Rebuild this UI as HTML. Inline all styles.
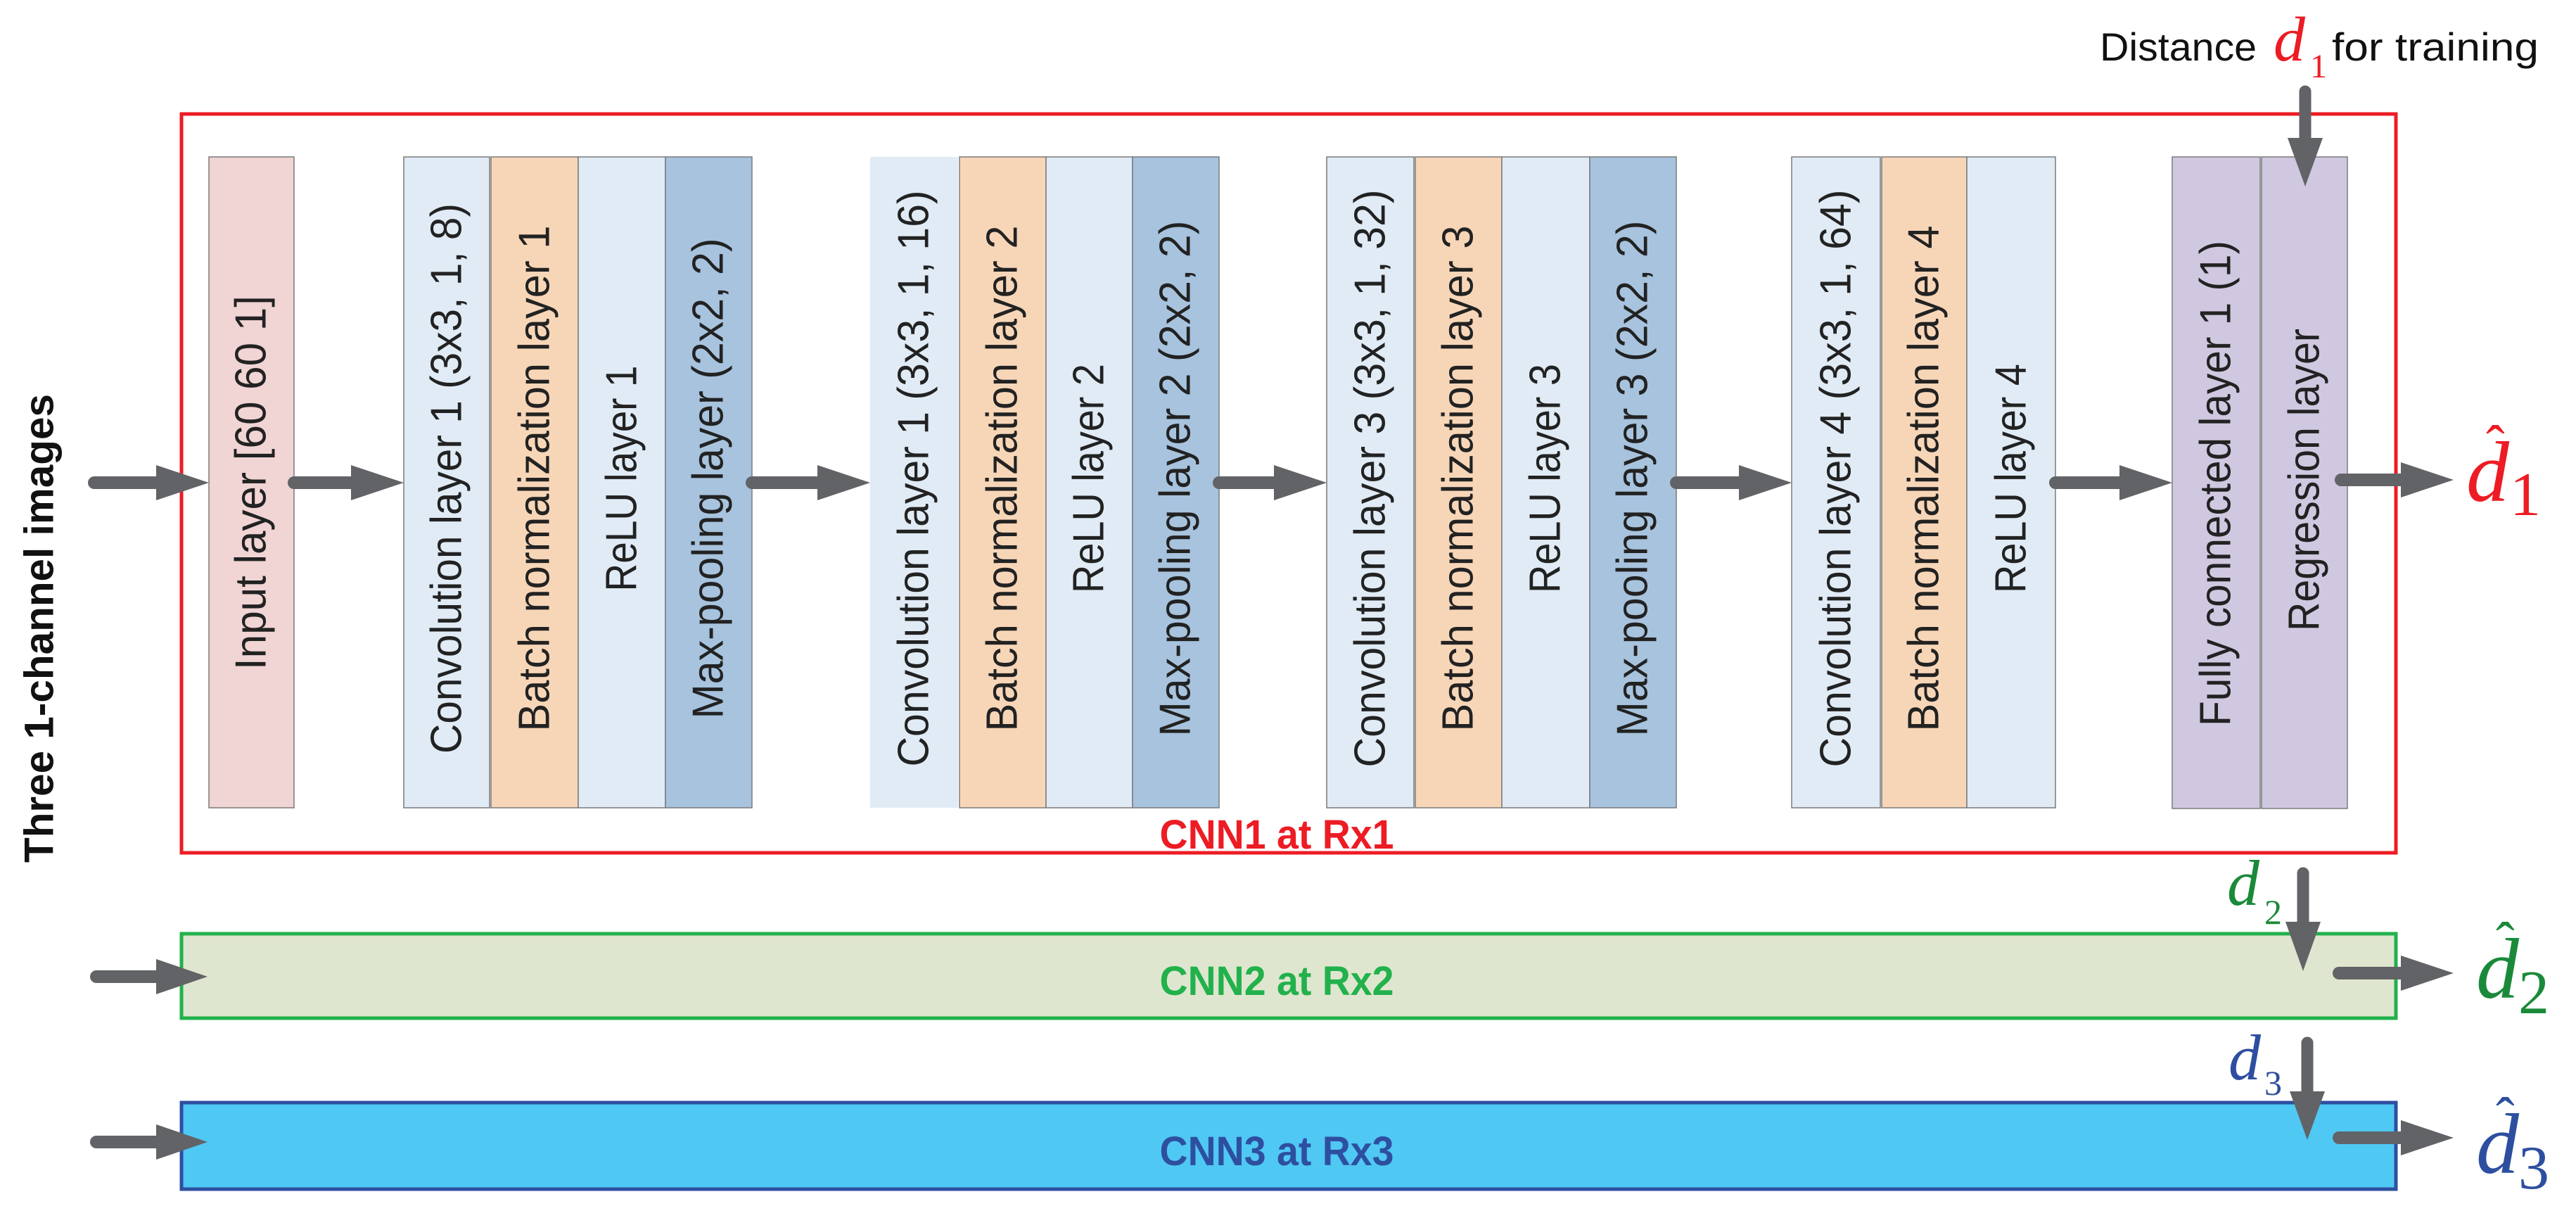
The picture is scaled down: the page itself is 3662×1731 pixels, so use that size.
<!DOCTYPE html>
<html><head><meta charset="utf-8"><style>
html,body{margin:0;padding:0;background:#fff;}
svg{display:block;}
.lt{font-family:"Liberation Sans",sans-serif;font-size:62px;fill:#222;}
</style></head><body>
<svg width="3662" height="1731" viewBox="0 0 3662 1731" xmlns="http://www.w3.org/2000/svg">
<defs>
<path id="ah" d="M-75,-25 L0,0 L-75,25 Z" fill="#626366"/>
</defs>
<!-- frames -->
<rect x="258" y="162" width="3148" height="1050" fill="none" stroke="#ed1c24" stroke-width="5"/>
<rect x="258" y="1327" width="3148" height="120" fill="#dfe6cf" stroke="#22b14c" stroke-width="5"/>
<rect x="258" y="1567" width="3148" height="123" fill="#4fc8f4" stroke="#2e4fa0" stroke-width="5"/>

<!-- layer boxes -->
<g stroke="#7a7a7a" stroke-width="1.5">
<rect x="297" y="223" width="121" height="925" fill="#f1d4d4"/>
<rect x="574" y="223" width="122" height="925" fill="#e0ebf5"/>
<rect x="698" y="223" width="124" height="925" fill="#f7d6b8"/>
<rect x="822" y="223" width="124" height="925" fill="#e0ebf5"/>
<rect x="946" y="223" width="123" height="925" fill="#a7c3de"/>
<rect x="1237" y="223" width="125" height="925" fill="#e0ebf5" stroke="none"/>
<rect x="1364" y="223" width="123" height="925" fill="#f7d6b8"/>
<rect x="1487" y="223" width="123" height="925" fill="#e0ebf5"/>
<rect x="1610" y="223" width="123" height="925" fill="#a7c3de"/>
<rect x="1886" y="223" width="124" height="925" fill="#e0ebf5"/>
<rect x="2012" y="223" width="123" height="925" fill="#f7d6b8"/>
<rect x="2135" y="223" width="125" height="925" fill="#e0ebf5"/>
<rect x="2260" y="223" width="123" height="925" fill="#a7c3de"/>
<rect x="2547" y="223" width="126" height="925" fill="#e0ebf5"/>
<rect x="2675" y="223" width="121" height="925" fill="#f7d6b8"/>
<rect x="2796" y="223" width="126" height="925" fill="#e0ebf5"/>
<rect x="3088" y="223" width="125" height="926" fill="#d0c8e0"/>
<rect x="3215" y="223" width="122" height="926" fill="#d0c8e0"/>
</g>

<!-- layer labels -->
<g class="lt" text-anchor="middle" dominant-baseline="central">
<text transform="translate(357,686) rotate(-90)" textLength="532" lengthAdjust="spacingAndGlyphs">Input layer [60 60 1]</text>
<text transform="translate(635,680) rotate(-90)" textLength="782" lengthAdjust="spacingAndGlyphs">Convolution layer 1 (3x3, 1, 8)</text>
<text transform="translate(760,680) rotate(-90)" textLength="719" lengthAdjust="spacingAndGlyphs">Batch normalization layer 1</text>
<text transform="translate(884,680) rotate(-90)" textLength="321" lengthAdjust="spacingAndGlyphs">ReLU layer 1</text>
<text transform="translate(1007,680) rotate(-90)" textLength="683" lengthAdjust="spacingAndGlyphs">Max-pooling layer (2x2, 2)</text>
<text transform="translate(1299,680) rotate(-90)" textLength="819" lengthAdjust="spacingAndGlyphs">Convolution layer 1 (3x3, 1, 16)</text>
<text transform="translate(1425,680) rotate(-90)" textLength="719" lengthAdjust="spacingAndGlyphs">Batch normalization layer 2</text>
<text transform="translate(1548,680) rotate(-90)" textLength="326" lengthAdjust="spacingAndGlyphs">ReLU layer 2</text>
<text transform="translate(1671,680) rotate(-90)" textLength="733" lengthAdjust="spacingAndGlyphs">Max-pooling layer 2 (2x2, 2)</text>
<text transform="translate(1948,680) rotate(-90)" textLength="821" lengthAdjust="spacingAndGlyphs">Convolution layer 3 (3x3, 1, 32)</text>
<text transform="translate(2073,680) rotate(-90)" textLength="719" lengthAdjust="spacingAndGlyphs">Batch normalization layer 3</text>
<text transform="translate(2197,680) rotate(-90)" textLength="326" lengthAdjust="spacingAndGlyphs">ReLU layer 3</text>
<text transform="translate(2321,680) rotate(-90)" textLength="733" lengthAdjust="spacingAndGlyphs">Max-pooling layer 3 (2x2, 2)</text>
<text transform="translate(2610,680) rotate(-90)" textLength="821" lengthAdjust="spacingAndGlyphs">Convolution layer 4 (3x3, 1, 64)</text>
<text transform="translate(2735,680) rotate(-90)" textLength="719" lengthAdjust="spacingAndGlyphs">Batch normalization layer 4</text>
<text transform="translate(2859,680) rotate(-90)" textLength="326" lengthAdjust="spacingAndGlyphs">ReLU layer 4</text>
<text transform="translate(3150,687) rotate(-90)" textLength="690" lengthAdjust="spacingAndGlyphs">Fully connected layer 1 (1)</text>
<text transform="translate(3276,682) rotate(-90)" textLength="430" lengthAdjust="spacingAndGlyphs">Regression layer</text>
</g>

<!-- side label -->
<text transform="translate(56,893) rotate(-90)" text-anchor="middle" dominant-baseline="central" font-family="Liberation Sans, sans-serif" font-weight="bold" font-size="58" fill="#111" textLength="666" lengthAdjust="spacingAndGlyphs">Three 1-channel images</text>

<!-- CNN labels -->
<g font-family="Liberation Sans, sans-serif" font-weight="bold" font-size="58" text-anchor="middle">
<text x="1815" y="1206" fill="#ed1c24" textLength="333" lengthAdjust="spacingAndGlyphs">CNN1 at Rx1</text>
<text x="1815" y="1414" fill="#22b14c" textLength="333" lengthAdjust="spacingAndGlyphs">CNN2 at Rx2</text>
<text x="1815" y="1656" fill="#2e4fa0" textLength="333" lengthAdjust="spacingAndGlyphs">CNN3 at Rx3</text>
</g>

<!-- horizontal arrows -->
<g stroke="#626366" stroke-width="18" stroke-linecap="round">
<line x1="134" y1="686" x2="225" y2="686"/>
<line x1="418" y1="686" x2="502" y2="686"/>
<line x1="1069" y1="686" x2="1165" y2="686"/>
<line x1="1733" y1="686" x2="1814" y2="686"/>
<line x1="2383" y1="686" x2="2475" y2="686"/>
<line x1="2922" y1="686" x2="3016" y2="686"/>
<line x1="3328" y1="682" x2="3416" y2="682"/>
<line x1="3325" y1="1383" x2="3416" y2="1383"/>
<line x1="3325" y1="1617" x2="3416" y2="1617"/>
<line x1="137" y1="1388" x2="225" y2="1388"/>
<line x1="137" y1="1623" x2="225" y2="1623"/>
</g>
<g fill="#626366">
<use href="#ah" transform="translate(297,686)"/>
<use href="#ah" transform="translate(574,686)"/>
<use href="#ah" transform="translate(1237,686)"/>
<use href="#ah" transform="translate(1886,686)"/>
<use href="#ah" transform="translate(2547,686)"/>
<use href="#ah" transform="translate(3088,686)"/>
<use href="#ah" transform="translate(3488,682)"/>
<use href="#ah" transform="translate(3488,1383)"/>
<use href="#ah" transform="translate(3488,1617)"/>
<path d="M222,1363 L295,1388 L222,1413 Z"/>
<path d="M222,1598 L295,1623 L222,1648 Z"/>
</g>
<!-- vertical arrows -->
<g stroke="#626366" stroke-width="17" stroke-linecap="round">
<line x1="3277" y1="130" x2="3277" y2="200"/>
<line x1="3274" y1="1241" x2="3274" y2="1312"/>
<line x1="3280" y1="1482" x2="3280" y2="1552"/>
</g>
<g fill="#626366">
<path d="M3252,196 L3302,196 L3277,265 Z"/>
<path d="M3249,1310 L3299,1310 L3274,1380 Z"/>
<path d="M3255,1551 L3305,1551 L3280,1620 Z"/>
</g>

<!-- top label -->
<g font-family="Liberation Sans, sans-serif" font-size="56" fill="#111">
<text x="2985" y="86" textLength="223" lengthAdjust="spacingAndGlyphs">Distance</text>
<text x="3315" y="86" textLength="294" lengthAdjust="spacingAndGlyphs">for training</text>
</g>
<g font-family="Liberation Serif, serif">
<text x="3232" y="86" font-style="italic" font-size="90" fill="#ed1c24">d</text>
<text x="3284" y="110" font-size="48" fill="#ed1c24">1</text>
<text x="3166" y="1286" font-style="italic" font-size="92" fill="#1a8a3a">d</text>
<text x="3219" y="1313" font-size="50" fill="#1a8a3a">2</text>
<text x="3168" y="1534" font-style="italic" font-size="92" fill="#2e4fa0">d</text>
<text x="3219" y="1556" font-size="50" fill="#2e4fa0">3</text>

<!-- outputs -->
<text x="3506" y="712" font-style="italic" font-size="122" fill="#ed1c24">d</text>
<text x="3534" y="660" font-size="80" fill="#ed1c24">ˆ</text>
<text x="3568" y="732" font-size="88" fill="#ed1c24">1</text>
<text x="3520" y="1418" font-style="italic" font-size="122" fill="#1a8a3a">d</text>
<text x="3548" y="1366" font-size="80" fill="#1a8a3a">ˆ</text>
<text x="3580" y="1440" font-size="88" fill="#1a8a3a">2</text>
<text x="3520" y="1667" font-style="italic" font-size="122" fill="#2e4fa0">d</text>
<text x="3548" y="1615" font-size="80" fill="#2e4fa0">ˆ</text>
<text x="3580" y="1689" font-size="88" fill="#2e4fa0">3</text>
</g>
</svg>
</body></html>
